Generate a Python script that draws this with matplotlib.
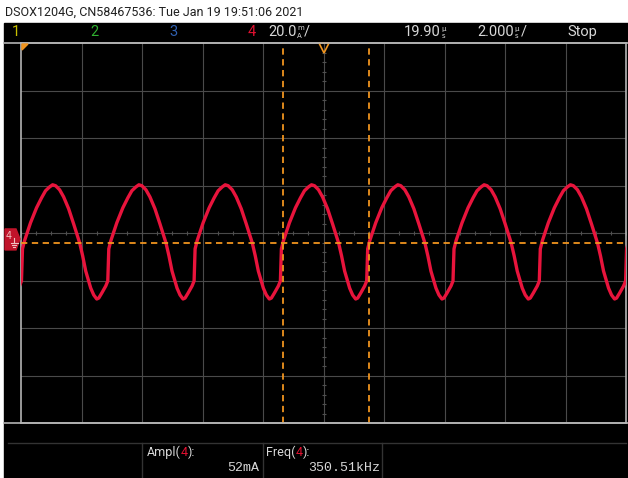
import numpy as np
import matplotlib
matplotlib.use("Agg")
import matplotlib.pyplot as plt
from matplotlib.patches import Rectangle, Polygon
from matplotlib.lines import Line2D

# Captura del osciloscopio DSOX1204G, canal 4 (corriente)
encabezado = "DSOX1204G, CN58467536: Tue Jan 19 19:51:06 2021"
escala_ma_div = 20.0        # mA/div
escala_us_div = 2.0         # us/div
retardo_us = "19.90"
base_tiempo = "2.000"
estado = "Stop"

ampl_ma = 52
freq_khz = 350.51

# Un periodo de la traza, empezando en el valle (fraccion de periodo, mA)
fase = np.array([0, 2, 5, 9, 11, 12, 14, 20, 26, 31, 35, 39, 42, 45, 49,
                 53, 58, 63, 69, 72, 75, 80, 83, 86]) / 86.0
corriente_ma = np.array([-25.3, -24.9, -22.8, -19.8, -17.7, -4.2, -0.8, 6.8,
                         13.1, 17.3, 20.3, 21.9, 22.8, 22.4, 20.7, 17.7, 12.7,
                         6.3, -1.7, -7.2, -13.5, -20.7, -23.6, -25.3])

valle_us = -1.79            # primer valle a la derecha del cursor A
cursor_a_us = -1.34
nivel_disparo_ma = -1.5
centro_ma = 2.5             # valor en el centro de la pantalla

periodo_us = 1000.0 / freq_khz

W, H = 628, 478
def fx(x):
    return x / W
def fy(y):
    return 1 - y / H

fig = plt.figure(figsize=(W / 100, H / 100), dpi=100)
fig.patch.set_facecolor("white")
fig.add_artist(Rectangle((fx(4), 0), fx(624), fy(23), transform=fig.transFigure,
                         color="black", zorder=0))

fuente = ["Roboto", "DejaVu Sans"]

# Texto superior
fig.text(fx(5), fy(12), encabezado, fontsize=9, color="#202020", va="center",
         family=fuente)

# Barra de estado
txt = dict(fontsize=10.5, va="center", family=fuente)
fig.text(fx(12), fy(32), "1", color="#c8c000", **txt)
fig.text(fx(90), fy(32), "2", color="#30b030", **txt)
fig.text(fx(169), fy(32), "3", color="#3060b0", **txt)
fig.text(fx(248), fy(32), "4", color="#e01030", **txt)
gris = "#d8d8d8"

def unidad(x, valor, arriba, abajo, barra):
    t = fig.text(fx(x), fy(32), valor, color=gris, **txt)
    fig.canvas.draw()
    bb = t.get_window_extent()
    x1 = bb.x1 + 1
    fig.text(x1 / W, fy(28.5), arriba, color=gris, fontsize=5, va="center", ha="left")
    fig.text(x1 / W, fy(35.5), abajo, color=gris, fontsize=5, va="center", ha="left")
    if barra:
        fig.text(x1 / W + fx(6), fy(32), "/", color=gris, **txt)

unidad(268, f"{escala_ma_div:.1f}", "m", "A", True)
unidad(404, retardo_us, "µ", "s", False)
unidad(477, base_tiempo, "µ", "s", True)
fig.text(fx(567), fy(32), estado, color=gris, **txt)

# Lineas del marco
borde = "#b4b4b4"
fig.add_artist(Line2D([fx(4), fx(628)], [fy(43), fy(43)], color=borde, lw=1.2))
fig.add_artist(Line2D([fx(4), fx(628)], [fy(423), fy(423)], color=borde, lw=1.2))
fig.add_artist(Line2D([fx(8), fx(626)], [fy(443), fy(443)], color="#333333", lw=1))
for xs in [142, 263, 382]:
    fig.add_artist(Line2D([fx(xs), fx(xs)], [fy(443), fy(478)], color="#333333", lw=1))

# Reticula
ax = fig.add_axes([fx(21), fy(423), fx(605), (423 - 43) / H])
ax.set_facecolor("black")
ax.set_xlim(-5 * escala_us_div, 5 * escala_us_div)
ax.set_ylim(centro_ma - 4 * escala_ma_div, centro_ma + 4 * escala_ma_div)
ax.set_xticks([])
ax.set_yticks([])
for s in ax.spines.values():
    s.set_color(borde)
    s.set_linewidth(1.2)

for k in range(-4, 5):
    ax.axvline(k * escala_us_div, color="#4a4a4a", lw=0.8, zorder=1)
for k in range(-3, 4):
    ax.axhline(centro_ma + k * escala_ma_div, color="#4a4a4a", lw=0.8, zorder=1)

menor_x = np.arange(-10, 10.01, escala_us_div / 4)
ax.plot(menor_x, np.full_like(menor_x, centro_ma), ls="none", marker="|",
        ms=3, color="#505050", mew=0.8, zorder=1)
menor_y = centro_ma + np.arange(-80, 80.01, escala_ma_div / 5)
ax.plot(np.zeros_like(menor_y), menor_y, ls="none", marker="_",
        ms=3, color="#505050", mew=0.8, zorder=1)

# Traza del canal 4, repitiendo el periodo medido
t = []
i = []
for k in range(-5, 6):
    inicio = valle_us + k * periodo_us
    t.extend(inicio + fase[:-1] * periodo_us)
    i.extend(corriente_ma[:-1])
ax.plot(t, i, color="#e8143c", lw=2.4, zorder=3, solid_joinstyle="round")

# Nivel de disparo y cursores
naranja = "#f0941e"
ax.axhline(nivel_disparo_ma, color=naranja, lw=1.3, ls=(0, (3.5, 2.5)), zorder=4)
for c in [cursor_a_us, cursor_a_us + periodo_us]:
    ax.axvline(c, color=naranja, lw=1.3, ls=(0, (3.5, 2.5)), zorder=4)

# Marcadores superiores
ax.plot([0], [centro_ma + 4 * escala_ma_div - 2.2], marker="v", ms=7, mfc="none",
        mec=naranja, mew=1.2, clip_on=False, zorder=5)
fig.add_artist(Polygon([[fx(22), fy(44)], [fx(28), fy(44)], [fx(22), fy(50)]],
                       closed=True, transform=fig.transFigure, color=naranja, zorder=5))

# Marcador de tierra del canal 4
y0 = H - ax.transData.transform((0, 0))[1]
rojo_m = "#c0142a"
claro = "#f0c0c0"
fig.add_artist(Polygon([[fx(5), fy(y0 - 10)], [fx(16), fy(y0 - 10)], [fx(20), fy(y0)],
                        [fx(16), fy(y0 + 11)], [fx(5), fy(y0 + 11)]],
                       closed=True, transform=fig.transFigure, color=rojo_m, zorder=5))
fig.text(fx(6), fy(y0 - 3), "4", color=claro, fontsize=7, va="center", zorder=6)
# simbolo de tierra
xg = 14
for dy, ancho in [(4, 3.5), (6, 2.3), (8, 1.1)]:
    fig.add_artist(Line2D([fx(xg - ancho), fx(xg + ancho)], [fy(y0 + dy), fy(y0 + dy)],
                          color=claro, lw=0.8, zorder=6))
fig.add_artist(Line2D([fx(xg), fx(xg)], [fy(y0 - 1), fy(y0 + 4)], color=claro, lw=0.8, zorder=6))

# Mediciones
med = dict(fontsize=9, va="center", family=fuente)
mono = dict(fontsize=9.5, va="center", family=["Liberation Mono", "DejaVu Sans Mono"])

def etiqueta(x, nombre):
    a = fig.text(fx(x), fy(452), nombre + "(", color=gris, **med)
    fig.canvas.draw()
    x1 = a.get_window_extent().x1
    b = fig.text(x1 / W, fy(452), "4", color="#e01030", **med)
    fig.canvas.draw()
    x2 = b.get_window_extent().x1
    fig.text(x2 / W, fy(452), "):", color=gris, **med)

etiqueta(147, "Ampl")
etiqueta(266, "Freq")
fig.text(fx(259), fy(468), f"{ampl_ma}mA", color=gris, ha="right", **mono)
fig.text(fx(380), fy(468), f"{freq_khz:.2f}kHz", color=gris, ha="right", **mono)

fig.savefig("out.png", dpi=100, facecolor=fig.get_facecolor())
